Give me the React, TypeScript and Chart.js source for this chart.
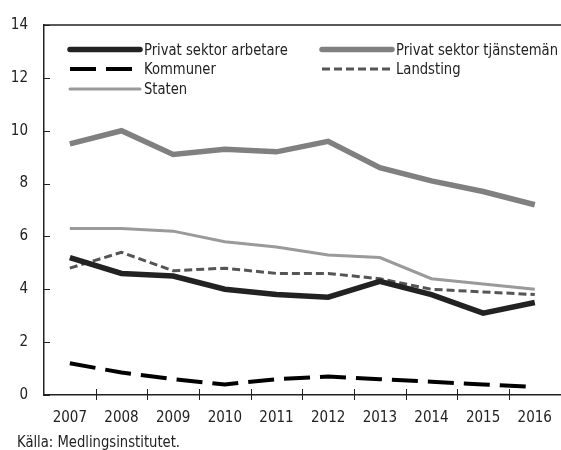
import React, { useEffect, useRef } from "react";
import { Chart, registerables } from "chart.js";

Chart.register(...registerables);

const FONT = "'Liberation Sans Narrow', 'DejaVu Sans Condensed', 'Arial Narrow', sans-serif";

const years = ["2007", "2008", "2009", "2010", "2011", "2012", "2013", "2014", "2015", "2016"];
const privatArbetare = [5.2, 4.6, 4.5, 4.0, 3.8, 3.7, 4.3, 3.8, 3.1, 3.5];
const privatTjansteman = [9.5, 10.0, 9.1, 9.3, 9.2, 9.6, 8.6, 8.1, 7.7, 7.2];
const kommuner = [1.2, 0.85, 0.6, 0.4, 0.6, 0.7, 0.6, 0.5, 0.4, 0.3];
const landsting = [4.8, 5.4, 4.7, 4.8, 4.6, 4.6, 4.4, 4.0, 3.9, 3.8];
const staten = [6.3, 6.3, 6.2, 5.8, 5.6, 5.3, 5.2, 4.4, 4.2, 4.0];
const yMin = 0;
const yMax = 14;
const yStep = 2;
const sourceText = "Källa: Medlingsinstitutet.";

function squishText(ctx: any, text: string, x: number, y: number, sx: number) {
  ctx.save();
  ctx.translate(x, y);
  ctx.scale(sx, 1);
  ctx.fillText(text, 0, 0);
  ctx.restore();
}

const decorPlugin = {
  id: "decor",
  afterDraw(chart: any) {
    const ctx = chart.ctx;
    const { left, top, bottom } = chart.chartArea;
    const xs = chart.scales.x;
    const ys = chart.scales.y;
    ctx.save();
    ctx.strokeStyle = "#222";
    ctx.lineWidth = 1.5;
    ctx.beginPath();
    ctx.moveTo(left, top);
    ctx.lineTo(chart.width, top);
    ctx.stroke();
    ctx.lineWidth = 1;
    ys.ticks.forEach((t: any) => {
      const py = Math.round(ys.getPixelForValue(t.value)) + 0.5;
      ctx.beginPath();
      ctx.moveTo(left, py);
      ctx.lineTo(left + 6, py);
      ctx.stroke();
    });
    for (let i = 1; i < years.length; i++) {
      const px = Math.round((xs.getPixelForValue(i - 1) + xs.getPixelForValue(i)) / 2) + 0.5;
      ctx.beginPath();
      ctx.moveTo(px, bottom - 6);
      ctx.lineTo(px, bottom + 5);
      ctx.stroke();
    }
    const ds = chart.data.datasets;
    const colX = [left + 26, left + 278];
    const rowY = [top + 24.5, top + 44, top + 64];
    ctx.font = `16px ${FONT}`;
    ctx.textBaseline = "middle";
    ctx.textAlign = "left";
    const longest = ctx.measureText(ds[1].label).width;
    const sx = Math.min(1, 162 / longest);
    ds.forEach((d: any, i: number) => {
      const cx = colX[i % 2];
      const cy = rowY[Math.floor(i / 2)];
      ctx.beginPath();
      ctx.strokeStyle = d.borderColor;
      ctx.lineWidth = d.borderWidth;
      ctx.lineCap = d.borderDash && d.borderDash.length ? "butt" : "round";
      ctx.setLineDash(d.borderDash || []);
      ctx.moveTo(cx, cy);
      ctx.lineTo(cx + 70, cy);
      ctx.stroke();
      ctx.setLineDash([]);
      ctx.fillStyle = "#222";
      squishText(ctx, d.label, cx + 74, cy + 1, sx);
    });
    ctx.textBaseline = "alphabetic";
    squishText(ctx, sourceText, 17, 447, sx);
    ctx.restore();
  },
};

export default function App() {
  const ref = useRef<HTMLCanvasElement | null>(null);
  useEffect(() => {
    if (!ref.current) return;
    const chart = new Chart(ref.current, {
      type: "line",
      data: {
        labels: years,
        datasets: [
          { label: "Privat sektor arbetare", data: privatArbetare, borderColor: "#222222", borderWidth: 5.5 },
          { label: "Privat sektor tjänstemän", data: privatTjansteman, borderColor: "#808080", borderWidth: 5.5 },
          { label: "Kommuner", data: kommuner, borderColor: "#000000", borderWidth: 4, borderDash: [26, 10] },
          { label: "Landsting", data: landsting, borderColor: "#555555", borderWidth: 3, borderDash: [8, 4] },
          { label: "Staten", data: staten, borderColor: "#9a9a9a", borderWidth: 3 },
        ],
      },
      options: {
        responsive: false,
        animation: false,
        devicePixelRatio: 1,
        layout: { padding: { top: 23, right: 1, left: 0, bottom: 0 } },
        elements: { point: { radius: 0 }, line: { tension: 0, fill: false } },
        plugins: { legend: { display: false }, tooltip: { enabled: false }, title: { display: false } },
        scales: {
          x: {
            offset: true,
            grid: { offset: true, drawOnChartArea: false, drawTicks: false },
            border: { color: "#222", width: 1.5 },
            ticks: { color: "#222", font: { family: FONT, size: 15 }, padding: 14, maxRotation: 0 },
            afterFit: (s: any) => { s.height = 55; },
          },
          y: {
            min: yMin,
            max: yMax,
            grid: { drawOnChartArea: false, drawTicks: false },
            border: { color: "#222", width: 1.5 },
            ticks: { stepSize: yStep, color: "#222", font: { family: FONT, size: 15 }, padding: 16 },
            afterFit: (s: any) => { s.width = 44; },
          },
        },
      },
      plugins: [decorPlugin],
    });
    return () => chart.destroy();
  }, []);
  return (
    <div style={{ position: "fixed", left: 0, top: 0, width: 561, height: 450, overflow: "hidden", background: "#fff" }}>
      <canvas ref={ref} width={566} height={450} style={{ display: "block" }} />
    </div>
  );
}
